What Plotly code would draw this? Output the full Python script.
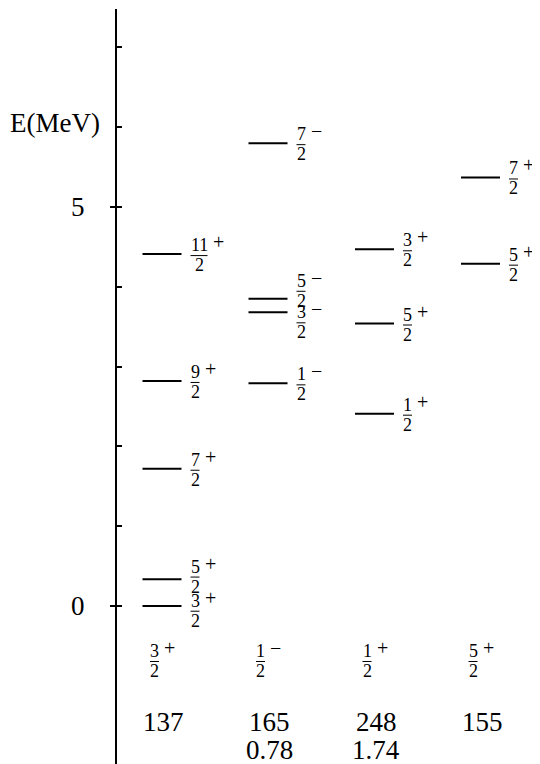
import plotly.graph_objects as go

# niveaux d'energie (MeV) par colonne, avec spin/parite
col_levels = [
    [0.0, 0.335, 1.72, 2.82, 4.41],
    [2.79, 3.68, 3.85, 5.80],
    [2.41, 3.54, 4.47],
    [4.29, 5.37],
]
col_spins = [
    [("3", "2", "+"), ("5", "2", "+"), ("7", "2", "+"), ("9", "2", "+"), ("11", "2", "+")],
    [("1", "2", "-"), ("3", "2", "-"), ("5", "2", "-"), ("7", "2", "-")],
    [("1", "2", "+"), ("5", "2", "+"), ("3", "2", "+")],
    [("5", "2", "+"), ("7", "2", "+")],
]
# spin/parite de l'etat fondamental et valeurs sous chaque colonne
ground_spins = [("3", "2", "+"), ("1", "2", "-"), ("1", "2", "+"), ("5", "2", "+")]
row1_values = ["137", "165", "248", "155"]
row2_values = ["", "0.78", "1.74", ""]

# mise en page (pixels de la fenetre ; la page a une marge de 8 px)
W, H = 540, 764
off = 8
px_mev = 79.8
y0_px = 606          # position de E=0
top_px = 9           # haut de l'axe
axis_x = 116
col_x = [142.5, 248.5, 355, 461]
lev_w = 39
FONT = "Liberation Serif"
big = 27
small = 18
sgn_size = 20
sign_map = {"+": "+", "-": "\u2212"}

e_top = (y0_px - top_px) / px_mev
e_bot = (y0_px - H) / px_mev

fig = go.Figure()
annotations = []
shapes = []


def frac_label(x_left, e, num, den, sgn, shift):
    # shift en pixels, positif = vers le bas
    w = 8.5 * len(num) if len(num) > 1 else 9
    xc = x_left + w / 2
    annotations.append(dict(x=xc, y=e, text=num, showarrow=False, yshift=9 - shift,
                            font=dict(size=small, family=FONT), xanchor="center", yanchor="middle"))
    annotations.append(dict(x=xc, y=e, text=den, showarrow=False, yshift=-11 - shift,
                            font=dict(size=small, family=FONT), xanchor="center", yanchor="middle"))
    annotations.append(dict(x=x_left + w + 3, y=e, text=sign_map[sgn], showarrow=False,
                            yshift=12 - shift, font=dict(size=sgn_size, family=FONT),
                            xanchor="left", yanchor="middle"))
    shapes.append(dict(type="line", xref="x", yref="y", ysizemode="pixel", yanchor=e,
                       x0=xc - w / 2, x1=xc + w / 2, y0=-1.5 - shift, y1=-1.5 - shift,
                       line=dict(color="black", width=1)))


for i, (levels, spins) in enumerate(zip(col_levels, col_spins)):
    xs, ys = [], []
    for e in levels:
        xs += [col_x[i], col_x[i] + lev_w, None]
        ys += [e, e, None]
    fig.add_trace(go.Scatter(x=xs, y=ys, mode="lines", line=dict(color="black", width=2),
                             hoverinfo="skip", showlegend=False))
    # decalage des etiquettes trop proches
    order = sorted(range(len(levels)), key=lambda k: levels[k])
    shifts = [0.0] * len(levels)
    for a, b in zip(order[:-1], order[1:]):
        gap = (levels[b] - levels[a]) * px_mev
        if gap < 36:
            s = (36 - gap) / 2 * 0.8
            shifts[a] += s
            shifts[b] -= s
    for e, (num, den, sgn), s in zip(levels, spins, shifts):
        frac_label(col_x[i] + lev_w + 9, e, num, den, sgn, s)

# etiquettes du bas
e_frac = (y0_px - 660) / px_mev
e_row1 = (y0_px - 722) / px_mev
e_row2 = (y0_px - 750) / px_mev
for i in range(4):
    num, den, sgn = ground_spins[i]
    frac_label(col_x[i] + 7.5, e_frac, num, den, sgn, 0)
    annotations.append(dict(x=col_x[i] + 21, y=e_row1, text=row1_values[i], showarrow=False,
                            font=dict(size=big, family=FONT), xanchor="center", yanchor="middle"))
    if row2_values[i]:
        annotations.append(dict(x=col_x[i] + 21, y=e_row2, text=row2_values[i], showarrow=False,
                                font=dict(size=big, family=FONT), xanchor="center", yanchor="middle"))

annotations.append(dict(x=55, y=(y0_px - 123) / px_mev, text="E(MeV)", showarrow=False,
                        font=dict(size=big, family=FONT), xanchor="center", yanchor="middle"))

# axe secondaire pour les graduations principales
fig.add_trace(go.Scatter(x=[], y=[], yaxis="y2", showlegend=False, hoverinfo="skip"))

fw, fh = W - off, H - off
dom = [0, (H - top_px) / fh]
pos = (axis_x - off) / fw
fig.update_layout(
    width=fw, height=fh,
    margin=dict(l=0, r=0, t=0, b=0),
    paper_bgcolor="white", plot_bgcolor="white",
    font=dict(family=FONT, color="black"),
    xaxis=dict(range=[off, W], visible=False, fixedrange=True),
    yaxis=dict(range=[e_bot, e_top], domain=dom, anchor="free", position=pos,
               showline=True, linecolor="black", linewidth=2, ticks="inside",
               tickvals=list(range(0, 8)), ticklen=5, tickwidth=1.5, tickcolor="black",
               showticklabels=False, showgrid=False, zeroline=False),
    yaxis2=dict(range=[e_bot, e_top], domain=dom, anchor="free", position=pos,
                overlaying="y", side="left", showline=False, ticks="outside",
                tickvals=[0, 5], ticktext=["0", "5"], ticklen=6, tickwidth=1.5,
                tickcolor="black", ticklabelstandoff=20,
                tickfont=dict(size=big, family=FONT), showgrid=False, zeroline=False),
    annotations=annotations,
    shapes=shapes,
)

fig.write_html("out.html")
